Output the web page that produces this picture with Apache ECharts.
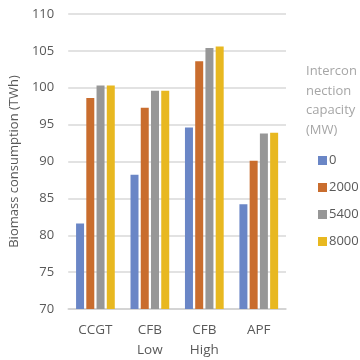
<!DOCTYPE html>
<html><head><meta charset="utf-8">
<script src="https://cdn.jsdelivr.net/npm/echarts@6/dist/echarts.min.js"></script>
<style>html,body{margin:0;padding:0;background:#fff}#c{width:360px;height:360px}</style>
</head><body><div id="c"></div>
<script>
const categories = ['CCGT', 'CFB\nLow', 'CFB\nHigh', 'APF'];
const seriesNames = ['0', '2000', '5400', '8000'];
const s0 = [81.6, 88.2, 94.6, 84.2];
const s2000 = [98.6, 97.3, 103.6, 90.1];
const s5400 = [100.3, 99.6, 105.4, 93.8];
const s8000 = [100.3, 99.6, 105.6, 93.9];
const colors = ['#6a86c6', '#c96d2e', '#979797', '#e8b820'];
const font = '"Open Sans", "Noto Sans", sans-serif';
const values = [s0, s2000, s5400, s8000];

const chart = echarts.init(document.getElementById('c'));
chart.setOption({
  animation: false,
  textStyle: { fontFamily: font },
  graphic: [{
    type: 'text', left: 306, top: 62,
    style: { text: 'Intercon\nnection\ncapacity\n(MW)', fill: '#a6a6a6', font: '13px ' + font, lineHeight: 19.5 }
  }],
  legend: {
    orient: 'vertical', left: 313, top: 149, itemWidth: 9, itemHeight: 9, itemGap: 14,
    icon: 'rect', textStyle: { color: '#595959', fontSize: 13, fontFamily: font, padding: [0, 0, 0, -3] },
    data: seriesNames
  },
  grid: { left: 63, right: 74, top: 14, bottom: 44 },
  xAxis: {
    type: 'category', data: categories,
    axisLine: { lineStyle: { color: '#d0d0d0', width: 1.5 } },
    axisTick: { show: false },
    axisLabel: { color: '#595959', fontSize: 13.5, lineHeight: 20, margin: 11, fontFamily: font }
  },
  yAxis: {
    type: 'value', min: 70, max: 110, interval: 5,
    name: 'Biomass consumption (TWh)', nameLocation: 'middle', nameGap: 37,
    nameTextStyle: { color: '#595959', fontSize: 13, fontFamily: font },
    axisLine: { show: false }, axisTick: { show: false },
    axisLabel: { color: '#595959', fontSize: 13, margin: 14, fontFamily: font },
    splitLine: { lineStyle: { color: '#d9d9d9', width: 1.5 } }
  },
  series: seriesNames.map((n, i) => ({
    name: n, type: 'bar', data: values[i], barWidth: 8, barGap: '28%',
    itemStyle: { color: colors[i] }
  }))
});
</script></body></html>
